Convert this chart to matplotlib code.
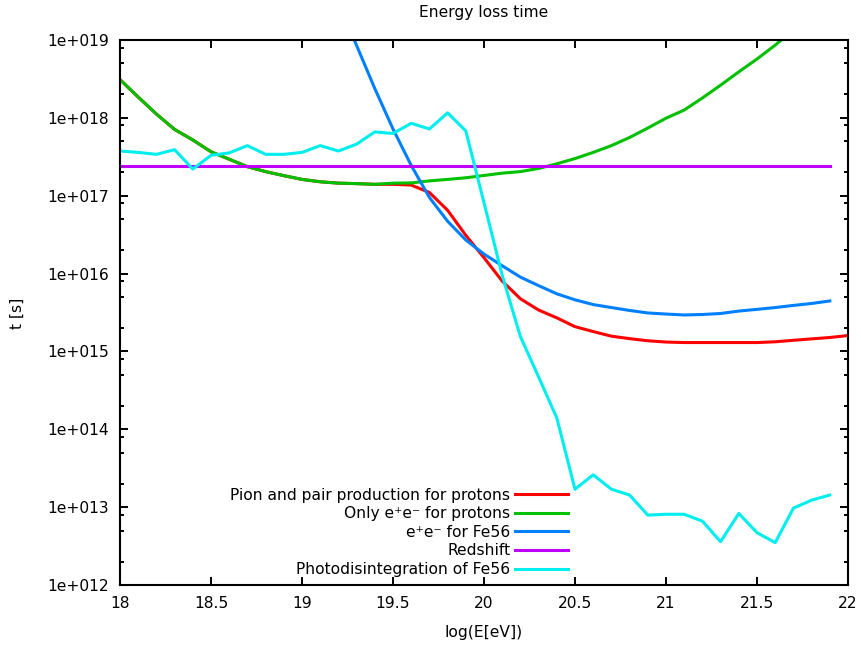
import numpy as np
import matplotlib
matplotlib.use('Agg')
import matplotlib.pyplot as plt
from matplotlib.ticker import FixedLocator, MultipleLocator, FuncFormatter, NullFormatter

# log(E[eV]) grid, 0.1 steps
energy = [18.0, 18.1, 18.2, 18.3, 18.4, 18.5, 18.6, 18.7, 18.8, 18.9,
          19.0, 19.1, 19.2, 19.3, 19.4, 19.5, 19.6, 19.7, 19.8, 19.9,
          20.0, 20.1, 20.2, 20.3, 20.4, 20.5, 20.6, 20.7, 20.8, 20.9,
          21.0, 21.1, 21.2, 21.3, 21.4, 21.5, 21.6, 21.7, 21.8, 21.9, 22.0]

# pion and pair production for protons (18.0 .. 22.0)
t_pion_pair = [3.1e18, 1.85e18, 1.12e18, 7.1e17, 5.2e17, 3.67e17, 2.94e17, 2.36e17, 2.04e17, 1.81e17,
               1.62e17, 1.51e17, 1.45e17, 1.43e17, 1.40e17, 1.40e17, 1.37e17, 1.1e17, 6.5e16, 3.1e16,
               1.6e16, 8.0e15, 4.75e15, 3.4e15, 2.7e15, 2.08e15, 1.8e15, 1.57e15, 1.46e15, 1.37e15,
               1.32e15, 1.3e15, 1.3e15, 1.3e15, 1.3e15, 1.3e15, 1.33e15, 1.39e15, 1.45e15, 1.51e15, 1.6e15]

# only e+e- for protons (18.0 .. 21.7)
t_pair_p = [3.1e18, 1.85e18, 1.12e18, 7.1e17, 5.2e17, 3.67e17, 2.94e17, 2.36e17, 2.04e17, 1.81e17,
            1.62e17, 1.51e17, 1.45e17, 1.43e17, 1.40e17, 1.45e17, 1.46e17, 1.55e17, 1.62e17, 1.70e17,
            1.82e17, 1.95e17, 2.04e17, 2.24e17, 2.57e17, 3.0e17, 3.6e17, 4.4e17, 5.6e17, 7.4e17,
            9.9e17, 1.26e18, 1.8e18, 2.63e18, 3.9e18, 5.7e18, 8.6e18, 1.35e19]

# e+e- for Fe56 (19.2 .. 21.9)
t_pair_fe = [3.1e19, 8.5e18, 2.38e18, 7.2e17, 2.45e17, 9.5e16, 4.7e16, 2.7e16,
             1.78e16, 1.26e16, 9.0e15, 7.0e15, 5.5e15, 4.6e15, 4.0e15, 3.66e15, 3.36e15, 3.12e15,
             3.02e15, 2.94e15, 2.98e15, 3.07e15, 3.3e15, 3.47e15, 3.66e15, 3.9e15, 4.13e15, 4.45e15]

# redshift (18.0 .. 21.9)
redshift_x = [18.0, 21.9]
t_redshift = [2.43e17, 2.43e17]

# photodisintegration of Fe56 (18.0 .. 21.9)
t_photodis = [3.75e17, 3.6e17, 3.4e17, 3.9e17, 2.2e17, 3.3e17, 3.55e17, 4.4e17, 3.4e17, 3.4e17,
              3.6e17, 4.4e17, 3.75e17, 4.6e17, 6.6e17, 6.3e17, 8.5e17, 7.2e17, 1.16e18, 6.8e17,
              8.1e16, 9.5e15, 1.55e15, 4.7e14, 1.4e14, 1.7e13, 2.6e13, 1.7e13, 1.43e13, 7.9e12,
              8.1e12, 8.1e12, 6.6e12, 3.6e12, 8.3e12, 4.7e12, 3.5e12, 9.7e12, 1.23e13, 1.43e13]

labels = ['Pion and pair production for protons',
          'Only e\u207ae\u207b for protons',
          'e\u207ae\u207b for Fe56',
          'Redshift',
          'Photodisintegration of Fe56']
colors = ['#ff0000', '#00c000', '#0080ff', '#c000ff', '#00eeee']

y_decades = [1e12, 1e13, 1e14, 1e15, 1e16, 1e17, 1e18, 1e19]

plt.rcParams['font.family'] = ['DejaVu Sans']
fs = 11.2

W, H = 861, 646
fig = plt.figure(figsize=(W / 100, H / 100), dpi=100)
ax = fig.add_axes([120 / W, (H - 585) / H, 728 / W, 545 / H])

lw = 2.2
ax.plot(energy, t_pion_pair, color=colors[0], lw=lw, label=labels[0])
ax.plot(energy[:len(t_pair_p)], t_pair_p, color=colors[1], lw=lw, label=labels[1])
ax.plot(energy[12:40], t_pair_fe, color=colors[2], lw=lw, label=labels[2])
ax.plot(redshift_x, t_redshift, color=colors[3], lw=lw, label=labels[3])
ax.plot(energy[:40], t_photodis, color=colors[4], lw=lw, label=labels[4])

ax.set_yscale('log')
ax.set_xlim(18, 22)
ax.set_ylim(1e12, 1e19)

ax.xaxis.set_major_locator(MultipleLocator(0.5))
ax.xaxis.set_major_formatter(FuncFormatter(lambda v, p: '%g' % v))
ax.yaxis.set_major_locator(FixedLocator(y_decades))
minor = [d * m for d in y_decades[:-1] for m in (2, 5, 8)]
ax.yaxis.set_minor_locator(FixedLocator(minor))
ax.yaxis.set_minor_formatter(NullFormatter())
ax.yaxis.set_major_formatter(FuncFormatter(lambda v, p: '1e+%03d' % int(round(np.log10(v)))))

ax.tick_params(which='both', direction='in', top=True, right=True, labelsize=fs,
               colors='black', width=1.4)
ax.tick_params(which='major', length=5.5, pad=8)
ax.tick_params(which='minor', length=3)
for s in ax.spines.values():
    s.set_linewidth(1.5)

fig.text(484 / W, 1 - 12 / H, 'Energy loss time', ha='center', va='center', fontsize=fs)
fig.text(484 / W, 1 - 632 / H, 'log(E[eV])', ha='center', va='center', fontsize=fs)
fig.text(17 / W, 1 - 313 / H, 't [s]', ha='center', va='center', rotation=90, fontsize=fs)

ax.legend(loc='lower right', bbox_to_anchor=(568 / W, (H - 577) / H),
          bbox_transform=fig.transFigure, frameon=False, markerfirst=False,
          alignment='right', fontsize=fs, handlelength=3.4, handletextpad=0.32,
          labelspacing=0.23, borderpad=0, borderaxespad=0)

fig.savefig('out.png', dpi=100)
